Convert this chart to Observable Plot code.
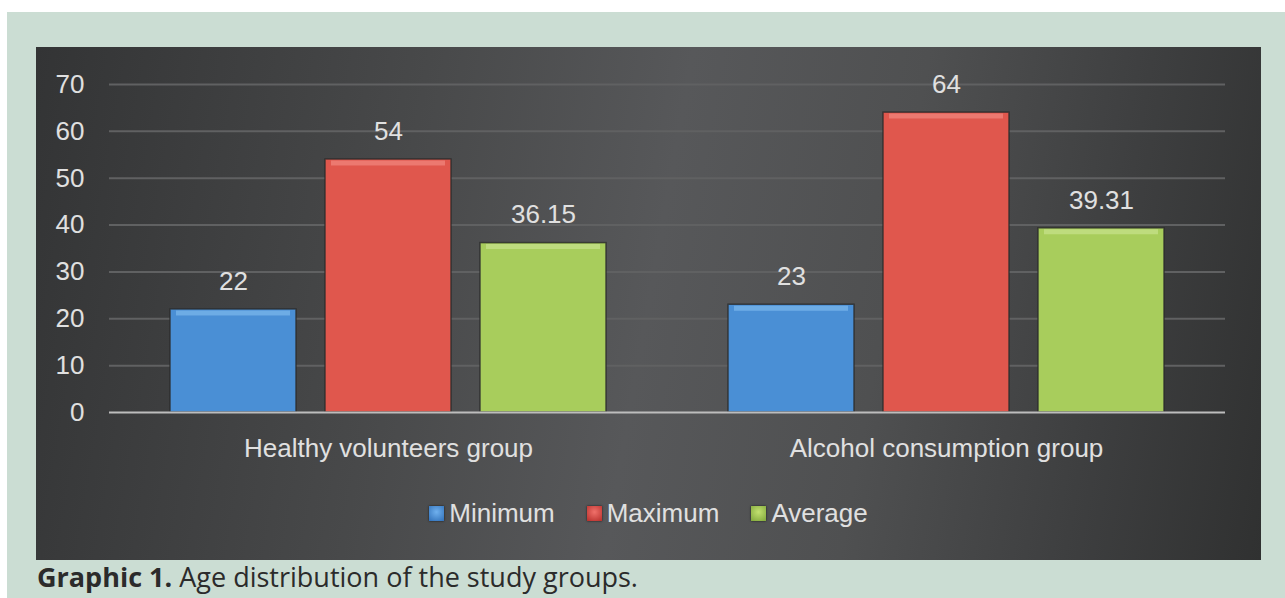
<!DOCTYPE html>
<html>
<head>
<meta charset="utf-8">
<script src="https://cdn.jsdelivr.net/npm/d3@7"></script>
<script src="https://cdn.jsdelivr.net/npm/@observablehq/plot@0.6"></script>
<style>
  html, body { margin: 0; padding: 0; background: #ffffff; width: 1285px; height: 598px; overflow: hidden; }
  #bg { position: absolute; left: 7px; top: 12px; width: 1278px; height: 586px; background: #cbddd3; }
  #panel { position: absolute; left: 29px; top: 35px; width: 1225px; height: 513px;
    background: linear-gradient(100deg, #333435 0%, #48494a 30%, #57585a 50%, #4f5051 68%, #3e3f40 85%, #303131 100%);
    overflow: hidden; }
  #chart { position: absolute; left: 0; top: 0; }
  #legend { position: absolute; left: 0; top: 451px; width: 1225px; height: 30px; display: flex; justify-content: center; align-items: center;
    font-family: "Liberation Sans", Arial, sans-serif; font-size: 26px; color: #e0e0e0; }
  .item { display: flex; align-items: center; margin: 0 16px; }
  .sw { width: 15px; height: 15px; margin-right: 5px; box-shadow: 0 0 2px rgba(0,0,0,0.7); }
  #caption { position: absolute; left: 30px; top: 547px; font-family: "Open Sans", "Noto Sans", sans-serif; font-size: 27px; line-height: 36px; color: #2b2b2b; white-space: nowrap; }
</style>
</head>
<body>
<div id="bg">
  <div id="panel">
    <div id="chart"></div>
    <div id="legend"></div>
  </div>
  <div id="caption"><b>Graphic 1.</b> Age distribution of the study groups.</div>
</div>
<script>
const groups = ["Healthy volunteers group", "Alcohol consumption group"];
const series = ["Minimum", "Maximum", "Average"];
const minimum = [22, 23];
const maximum = [54, 64];
const average = [36.15, 39.31];
const yTicks = [0, 10, 20, 30, 40, 50, 60, 70];

const colors = {Minimum: "#4a8fd5", Maximum: "#e0574d", Average: "#a8cd5c"};
const highlights = {Minimum: "#86c0f0", Maximum: "#f49088", Average: "#cde694"};
const swatchGrad = {
  Minimum: "radial-gradient(circle at 50% 40%, #6fb0ee, #2f6fb8)",
  Maximum: "radial-gradient(circle at 50% 40%, #f0706a, #b52e2a)",
  Average: "radial-gradient(circle at 50% 40%, #c2e070, #7fa63a)"
};

const valuesBySeries = {Minimum: minimum, Maximum: maximum, Average: average};
const table = [];
groups.forEach((g, i) => {
  series.forEach(s => table.push({group: g, series: s, value: valuesBySeries[s][i]}));
});

const chart = Plot.plot({
  width: 1225,
  height: 430,
  marginLeft: 73,
  marginRight: 36,
  marginTop: 37,
  marginBottom: 65,
  style: {background: "transparent", fontFamily: "'Liberation Sans', Arial, sans-serif", color: "#e0e0e0", overflow: "visible"},
  fx: {domain: groups, padding: 0, label: null},
  x: {domain: series, paddingInner: 0.19, paddingOuter: 0.39, axis: null},
  y: {domain: [0, 70], ticks: yTicks, label: null},
  color: {domain: series, range: series.map(s => colors[s])},
  marks: [
    Plot.ruleY(yTicks.filter(d => d > 0), {stroke: "#606162", strokeWidth: 2}),
    Plot.barY(table, {fx: "group", x: "series", y: "value", fill: "series", stroke: "#2a2a2a", strokeOpacity: 0.8, strokeWidth: 1.5}),
    Plot.tickY(table, {fx: "group", x: "series", y: "value", stroke: d => highlights[d.series], strokeWidth: 5, dy: 3.5, insetLeft: 6, insetRight: 6, strokeOpacity: 0.6}),
    Plot.ruleY([0], {stroke: "#bdbdbd", strokeWidth: 2}),
    Plot.text(table, {fx: "group", x: "series", y: "value", text: d => String(d.value), dy: -28, fontSize: 26, fill: "#e0e0e0", lineAnchor: "middle"}),
    Plot.axisY({ticks: yTicks, tickSize: 0, tickPadding: 25, fontSize: 26, fill: "#e0e0e0", label: null}),
    Plot.axisFx({anchor: "bottom", tickSize: 0, tickPadding: 26, fontSize: 26, fill: "#e0e0e0", label: null})
  ]
});
document.getElementById("chart").appendChild(chart);

const legend = document.getElementById("legend");
series.forEach(s => {
  const item = document.createElement("div");
  item.className = "item";
  const sw = document.createElement("div");
  sw.className = "sw";
  sw.style.background = swatchGrad[s];
  const t = document.createElement("span");
  t.textContent = s;
  item.appendChild(sw);
  item.appendChild(t);
  legend.appendChild(item);
});
</script>
</body>
</html>
